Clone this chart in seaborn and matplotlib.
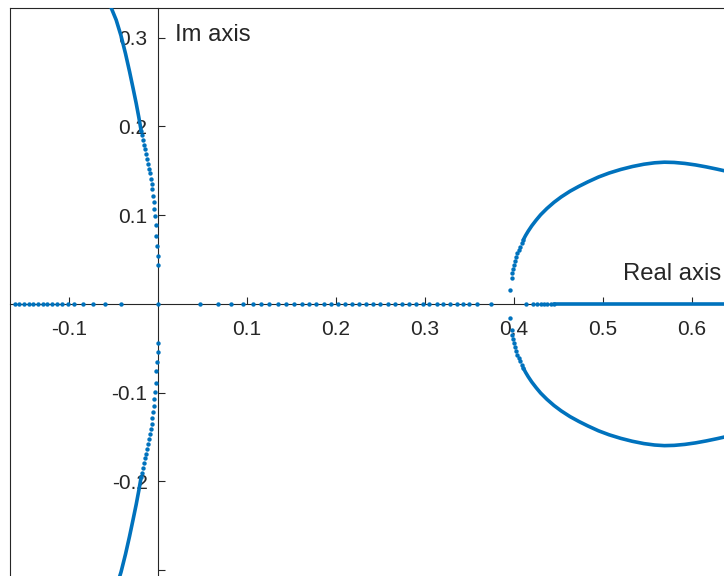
import matplotlib
matplotlib.use("Agg")
import matplotlib.pyplot as plt
import numpy as np
import pandas as pd
import seaborn as sns

# ---------------- data ----------------
# real-axis dots left of the origin
real_left_x = [0.0, -0.0419, -0.0592, -0.0727, -0.0839, -0.094, -0.1015, -0.1075,
               -0.113, -0.1188, -0.1244, -0.1296, -0.1348, -0.140, -0.1452,
               -0.1506, -0.156, -0.161]
# real-axis dots right of the origin
real_right_x = [0.0472, 0.0671, 0.082, 0.0951, 0.1064, 0.1157, 0.125, 0.1345,
                0.1438, 0.1532, 0.1615, 0.170, 0.178, 0.186, 0.194, 0.202, 0.210,
                0.218, 0.226, 0.234, 0.242, 0.250, 0.258, 0.266, 0.274, 0.282,
                0.290, 0.298, 0.305, 0.313, 0.3206, 0.328, 0.3356, 0.3423, 0.3498,
                0.3588, 0.3738, 0.4135, 0.421, 0.4255, 0.43, 0.4337, 0.4374,
                0.4412, 0.445]
# dense real-axis segment (solid)
real_dense_x = [0.445, 0.50, 0.55, 0.60, 0.64]

# left complex branch, upper half (sparse dots); lower half is its conjugate
left_sparse_x = [-0.0003, -0.0005, -0.0010, -0.0018, -0.0025, -0.0033, -0.0041,
                 -0.0049, -0.0056, -0.0064, -0.0072, -0.0080, -0.0088, -0.0099,
                 -0.0110, -0.0121, -0.0133, -0.0144, -0.0155, -0.0166, -0.0178,
                 -0.0189]
left_sparse_y = [0.0443, 0.0537, 0.065, 0.076, 0.0894, 0.0988, 0.1075, 0.115,
                 0.122, 0.129, 0.135, 0.141, 0.147, 0.1525, 0.158, 0.163, 0.169,
                 0.174, 0.179, 0.1845, 0.190, 0.195]
# left complex branch, dense part (upper half)
left_dense_x = [-0.0189, -0.0215, -0.0245, -0.0280, -0.0320, -0.0365, -0.0415,
                -0.0470, -0.0540]
left_dense_y = [0.195, 0.210, 0.226, 0.243, 0.262, 0.282, 0.302, 0.320, 0.337]

# right loop, upper half (sparse dots)
loop_sparse_x = [0.3955, 0.3974, 0.3981, 0.3989, 0.4000, 0.4011, 0.4022, 0.4037,
                 0.4053, 0.4067, 0.4086, 0.4105]
loop_sparse_y = [0.0158, 0.029, 0.0346, 0.0391, 0.044, 0.0488, 0.0533, 0.0571,
                 0.0609, 0.0646, 0.0684, 0.0722]
# right loop, dense part (upper half)
loop_dense_x = [0.4105, 0.4130, 0.4160, 0.4200, 0.4250, 0.4300, 0.4370, 0.4450,
                0.4530, 0.4630, 0.4730, 0.4830, 0.4950, 0.5070, 0.5200, 0.5330,
                0.5460, 0.5580, 0.5690, 0.5800, 0.5920, 0.6040, 0.6160, 0.6280,
                0.6400]
loop_dense_y = [0.0722, 0.0770, 0.0820, 0.0880, 0.0945, 0.1005, 0.1075, 0.1145,
                0.1205, 0.1270, 0.1325, 0.1375, 0.1430, 0.1475, 0.1515, 0.1548,
                0.1574, 0.1590, 0.1597, 0.1594, 0.1583, 0.1566, 0.1544, 0.1519,
                0.1492]

x_ticks = [-0.1, 0.1, 0.2, 0.3, 0.4, 0.5, 0.6]
x_ticklabels = ["-0.1", "0.1", "0.2", "0.3", "0.4", "0.5", "0.6"]
y_ticks = [-0.3, -0.2, -0.1, 0.1, 0.2, 0.3]
y_ticklabels = ["", "-0.2", "-0.1", "0.1", "0.2", "0.3"]

# ---------------- style ----------------
sns.set_theme(style="white")
plt.rcParams["font.family"] = ["Liberation Sans", "DejaVu Sans"]

BLUE = "#0072BD"
AXC = "#262626"

fig = plt.figure(figsize=(7.24, 5.76), dpi=100)
ax = fig.add_axes([10 / 724, 0, 714 / 724, 568.5 / 576])
ax.set_xlim(-0.1663, 0.636)
ax.set_ylim(-0.3066, 0.334)

dots = pd.concat([
    pd.DataFrame({"x": real_left_x, "y": np.zeros(len(real_left_x))}),
    pd.DataFrame({"x": real_right_x, "y": np.zeros(len(real_right_x))}),
    pd.DataFrame({"x": left_sparse_x, "y": left_sparse_y}),
    pd.DataFrame({"x": left_sparse_x, "y": -np.array(left_sparse_y)}),
    pd.DataFrame({"x": loop_sparse_x, "y": loop_sparse_y}),
    pd.DataFrame({"x": loop_sparse_x, "y": -np.array(loop_sparse_y)}),
], ignore_index=True)

sns.scatterplot(data=dots, x="x", y="y", ax=ax, color=BLUE, s=10,
                linewidth=0, zorder=3, clip_on=True)

LW = 2.6
dense_sets = [
    (real_dense_x, [0.0] * len(real_dense_x)),
    (left_dense_x, left_dense_y),
    (left_dense_x, [-v for v in left_dense_y]),
    (loop_dense_x, loop_dense_y),
    (loop_dense_x, [-v for v in loop_dense_y]),
]
for xs, ys in dense_sets:
    df = pd.DataFrame({"x": xs, "y": ys})
    sns.lineplot(data=df, x="x", y="y", ax=ax, sort=False, color=BLUE,
                 linewidth=LW, zorder=3, estimator=None)

# axes through the origin plus the box
ax.spines["bottom"].set_position(("data", 0))
ax.spines["left"].set_position(("data", 0))
ax.spines["right"].set_position(("axes", 0))
for s in ["bottom", "left", "right", "top"]:
    ax.spines[s].set_visible(True)
    ax.spines[s].set_color(AXC)
    ax.spines[s].set_linewidth(0.8)
    ax.spines[s].set_zorder(2)

ax.set_xticks(x_ticks)
ax.set_xticklabels(x_ticklabels)
ax.set_yticks(y_ticks)
ax.set_yticklabels(y_ticklabels)
ax.tick_params(axis="x", bottom=True, top=False, direction="in", length=5,
               width=0.8, color=AXC, labelcolor=AXC, labelsize=15, pad=11.5)
ax.tick_params(axis="y", left=True, right=False, direction="in", length=5,
               width=0.8, color=AXC, labelcolor=AXC, labelsize=15, pad=7.5)
ax.set_xlabel("")
ax.set_ylabel("")

ax.text(0.0195, 0.2957, "Im axis", fontsize=17.2, color=AXC, ha="left",
        va="baseline")
ax.text(0.5225, 0.0271, "Real axis", fontsize=17.2, color=AXC, ha="left",
        va="baseline")

fig.savefig("out.png", dpi=100)
